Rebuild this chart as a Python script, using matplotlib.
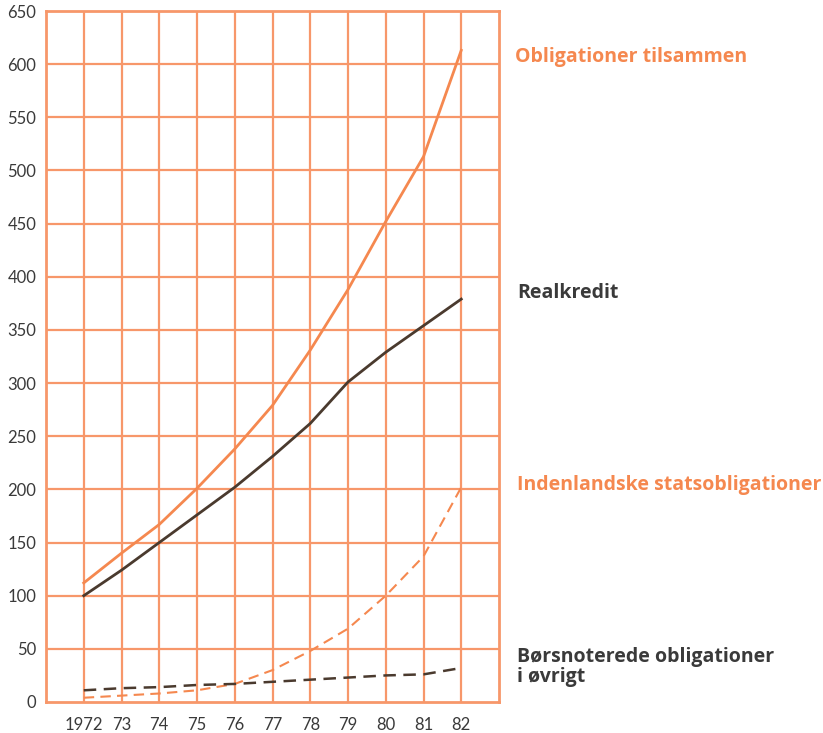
import matplotlib
matplotlib.use("Agg")
import matplotlib.pyplot as plt

years = [1972, 1973, 1974, 1975, 1976, 1977, 1978, 1979, 1980, 1981, 1982]
xlabels = ["1972", "73", "74", "75", "76", "77", "78", "79", "80", "81", "82"]
tilsammen = [112, 140, 167, 201, 238, 279, 331, 388, 452, 513, 613]
realkredit = [100, 124, 150, 176, 202, 231, 262, 301, 329, 354, 379]
stats = [4, 6, 8, 11, 17, 30, 48, 69, 100, 137, 202]
boers = [11, 13, 14, 16, 17, 19, 21, 23, 25, 26, 32]
yticks = list(range(0, 651, 50))

GRID = "#F7976A"
ORANGE = "#F5884F"
DARK = "#4A3A2E"
TEXT = "#3A3A3A"

plt.rcParams['font.family'] = ['Lato', 'DejaVu Sans']

fig = plt.figure(figsize=(8.23, 7.33), dpi=100)
ax = fig.add_axes([46/823, 31/733, (499-46)/823, (702-11)/733])
ax.set_xlim(1971, 1983)
ax.set_ylim(0, 650)

for yr in range(1972, 1983):
    ax.axvline(yr, color=GRID, lw=1.6, zorder=1)
for v in yticks[1:-1]:
    ax.axhline(v, color=GRID, lw=1.6, zorder=1)
for s in ax.spines.values():
    s.set_color(GRID)
    s.set_linewidth(2.0)

ax.plot(years, tilsammen, color=ORANGE, lw=2.0, zorder=3)
ax.plot(years, realkredit, color=DARK, lw=2.0, zorder=3)
ax.plot(years, stats, color=ORANGE, lw=1.5, ls=(0, (5, 3)), zorder=3)
ax.plot(years, boers, color=DARK, lw=1.8, ls=(0, (5, 3)), zorder=3)

ax.set_yticks(yticks)
ax.set_yticklabels([str(v) for v in yticks], fontsize=12, color=TEXT)
ax.set_xticks(years)
ax.set_xticklabels(xlabels, fontsize=12, color=TEXT)
ax.tick_params(length=0, pad=7)
ax.tick_params(axis='x', pad=11)

kw = dict(fontsize=14, fontweight='bold', transform=fig.transFigure, va='center', ha='left',
          family=['Open Sans', 'DejaVu Sans'])
fig.text(515/823, 1 - 57/733, "Obligationer tilsammen", color=ORANGE, **kw)
fig.text(517/823, 1 - 293/733, "Realkredit", color=TEXT, **kw)
fig.text(517/823, 1 - 485/733, "Indenlandske statsobligationer", color=ORANGE, **kw)
fig.text(517/823, 1 - 667/733, "Børsnoterede obligationer\ni øvrigt", color=TEXT,
         linespacing=1.05, **kw)

fig.savefig("out.png", dpi=100, facecolor="white")
